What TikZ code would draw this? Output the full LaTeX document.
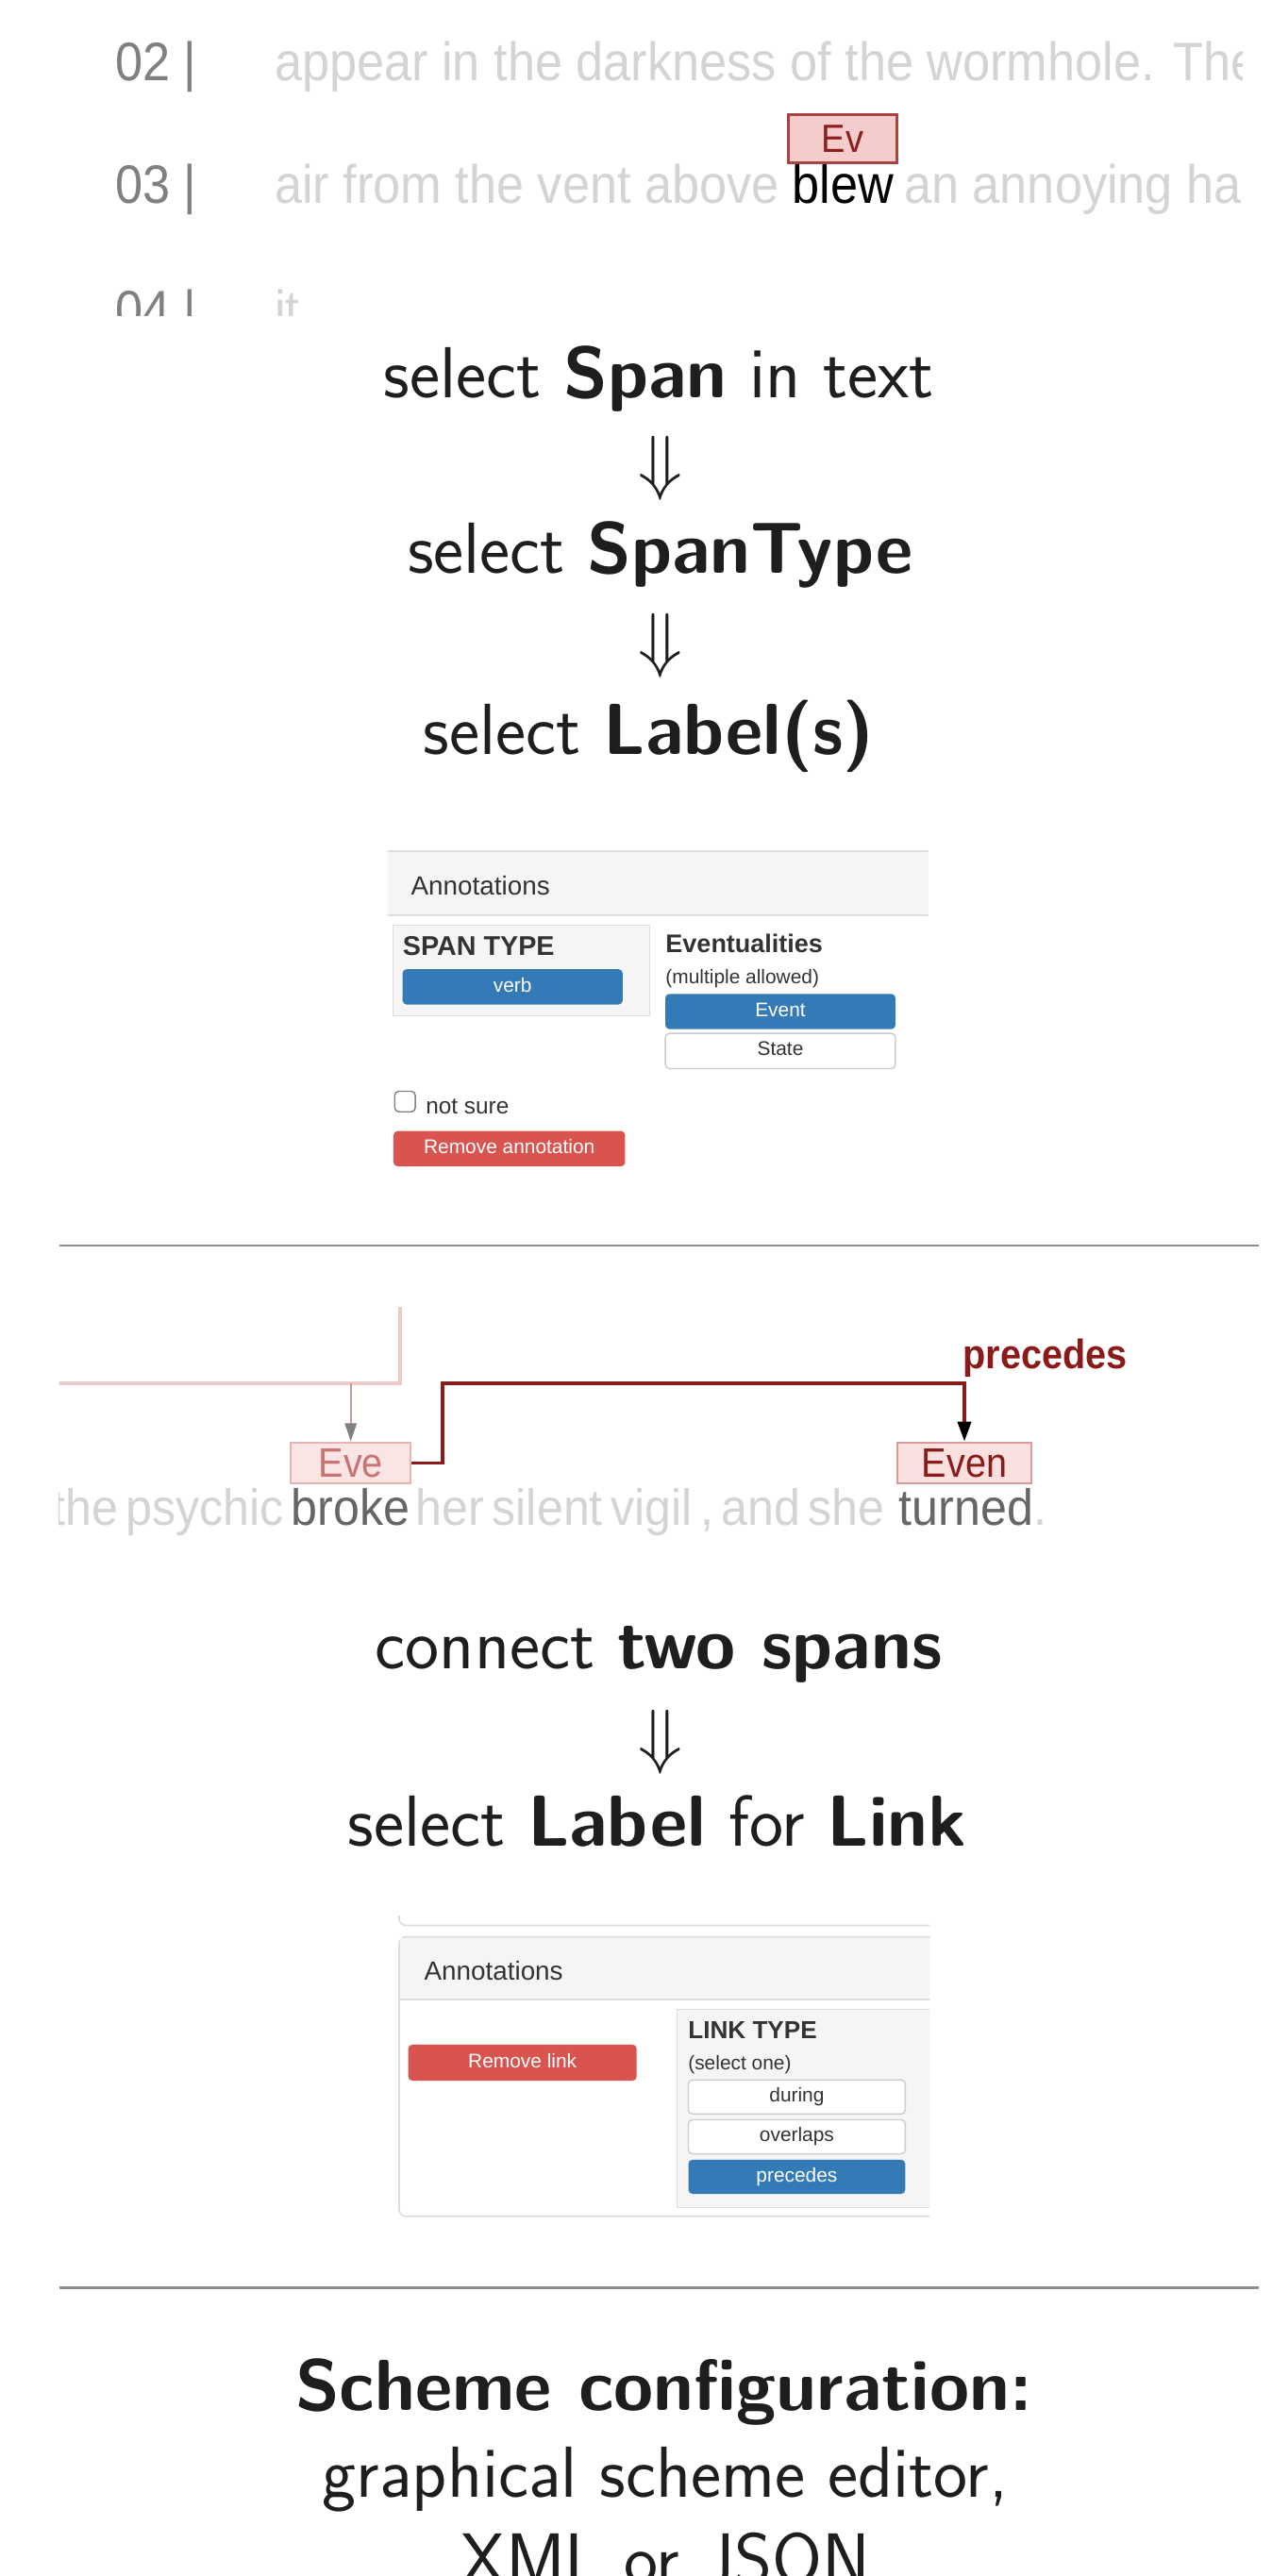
\RequirePackage{fix-cm}
\documentclass[tikz,border=0pt]{standalone}
\usepackage{fontspec}
\usepackage{tikz}
\usetikzlibrary{arrows.meta}

\newfontfamily\shotfont[FakeStretch=0.91]{Liberation Sans}
\newfontfamily\linefont[FakeStretch=0.93, WordSpace=0.6]{Liberation Sans}
\newfontfamily\uifont{Liberation Sans}

\definecolor{numgray}{HTML}{808080}
\definecolor{fadetext}{HTML}{D4D4D4}
\definecolor{wordgray}{HTML}{666666}
\definecolor{labelfill}{HTML}{F4CCCC}
\definecolor{labeldraw}{HTML}{A84444}
\definecolor{labeltext}{HTML}{8E1F1F}
\definecolor{fadefill}{HTML}{FBE4E4}
\definecolor{fadedraw}{HTML}{E6B4B4}
\definecolor{fadelabeltext}{HTML}{C77474}
\definecolor{evenfill}{HTML}{FBE0E0}
\definecolor{evendraw}{HTML}{D99A9A}
\definecolor{linkred}{HTML}{8B1A1A}
\definecolor{fadeline}{HTML}{EDCACA}
\definecolor{fadearrowline}{HTML}{CC9999}
\definecolor{panelgray}{HTML}{F5F5F5}
\definecolor{bordergray}{HTML}{DDDDDD}
\definecolor{btnborder}{HTML}{CCCCCC}
\definecolor{uidark}{HTML}{333333}
\definecolor{btnblue}{HTML}{337AB7}
\definecolor{btnred}{HTML}{D9534F}
\definecolor{rulegray}{HTML}{8C8C8C}
\definecolor{bigdark}{HTML}{1E1E1E}

\tikzset{
  bigtext/.style={font=\sffamily\fontsize{44}{52}\selectfont, text=bigdark, anchor=base, inner sep=0pt},
  shottext/.style={font=\shotfont\fontsize{33}{40}\selectfont, anchor=base west, inner sep=0pt},
  linetext/.style={font=\linefont\fontsize{31}{36}\selectfont, anchor=base west, inner sep=0pt},
  spanlabel/.style={draw=labeldraw, fill=labelfill, text=labeltext, line width=1.6pt, inner sep=0pt,
    font=\shotfont\fontsize{24}{28}\selectfont},
  fadelabel/.style={draw=fadedraw, fill=fadefill, text=fadelabeltext, line width=1.2pt, inner sep=0pt,
    font=\shotfont\fontsize{25}{28}\selectfont},
  evenlabel/.style={draw=evendraw, fill=evenfill, text=linkred, line width=1.2pt, inner sep=0pt,
    font=\shotfont\fontsize{25}{28}\selectfont},
  uitext/.style={font=\uifont\fontsize{16}{18}\selectfont, text=uidark, anchor=base west, inner sep=0pt},
  btn/.style={rounded corners=2.5pt, inner sep=0pt, text height=8.5pt, text depth=2.5pt,
    font=\uifont\fontsize{12}{14}\selectfont},
  bluebtn/.style={btn, fill=btnblue, text=white},
  redbtn/.style={btn, fill=btnred, text=white},
  whitebtn/.style={btn, fill=white, draw=btnborder, line width=0.8pt, text=uidark},
  linkline/.style={draw=linkred, line width=2.2pt, -{Triangle[length=12pt, width=8pt, color=black]}},
  fadearrow/.style={draw=fadearrowline, line width=1.3pt, -{Triangle[length=11pt, width=7pt, color=gray]}},
}

\begin{document}
\begin{tikzpicture}[x=1pt, y=-1pt]
\clip (0,0) rectangle (774,1568);
\fill[white] (0,0) rectangle (774,1568);

\begin{scope}
\clip (0,0) rectangle (756,192);
\node [shottext, text=numgray] (n02) at (70,49) {02 |};
\node [shottext, text=fadetext] (line02) at (167,49) {appear in the darkness of the wormhole. The};
\node [shottext, text=numgray] (n03) at (70,124) {03 |};
\node [shottext, text=fadetext] (line03a) at (167,124) {air from the vent above};
\node [shottext] (blew) at (482,124) {blew};
\node [shottext, text=fadetext] (line03b) at ([xshift=6pt]blew.base east) {an annoying hai};
\node [spanlabel, minimum width=66pt, minimum height=29pt] (ev) at (513,84.5) {Ev};
\node [shottext, text=numgray] (n04) at (70,200) {04 |};
\node [shottext, text=fadetext] (line04) at (167,200) {it};
\end{scope}

\node [bigtext] (step1) at (401,242) {select \textbf{Span} in text};
\node [bigtext] (arr1) at (402,296) {$\Downarrow$};
\node [bigtext] (step2) at (402,349) {select \textbf{SpanType}};
\node [bigtext] (arr2) at (402,404) {$\Downarrow$};
\node [bigtext] (step3) at (395,459) {select \textbf{Label(s)}};

\begin{scope}
\clip (230,510) rectangle (565,720);
\fill [panelgray] (236,518) rectangle (565,557);
\draw [bordergray, line width=1pt] (236,518) -- (565,518) (236,557) -- (565,557);
\node [uitext] (ann1) at (250,545) {Annotations};
\node [draw=bordergray, fill=panelgray, anchor=north west, minimum width=156pt, minimum height=55pt,
  inner sep=0pt] (spanbox) at (239,563) {};
\node [uitext, font=\uifont\bfseries\fontsize{16.5}{18}\selectfont] (spantype) at (245,581.7) {SPAN TYPE};
\node [bluebtn, minimum width=134pt, minimum height=21.5pt] (verb) at (312,600.7) {verb};
\node [uitext, font=\uifont\bfseries\fontsize{15.5}{18}\selectfont] (evtl) at (405,580) {Eventualities};
\node [uitext, font=\uifont\fontsize{12}{14}\selectfont] (multi) at (405,599) {(multiple allowed)};
\node [bluebtn, minimum width=140pt, minimum height=21.5pt] (event) at (475,615.7) {Event};
\node [whitebtn, minimum width=140pt, minimum height=21.5pt] (state) at (475,639.7) {State};
\node [draw=gray, rounded corners=2.5pt, minimum size=12.5pt, inner sep=0pt, line width=0.8pt] (chk) at (246.5,670.5) {};
\node [uitext, font=\uifont\fontsize{14}{16}\selectfont] (notsure) at (259,678) {not sure};
\node [redbtn, minimum width=141pt, minimum height=21.5pt] (rmann) at (310,699.2) {Remove annotation};
\end{scope}

\draw [rulegray, line width=1.3pt] (36,758) -- (766,758);

\begin{scope}
\clip (36,796) rectangle (720,945);
\coordinate (fadecorner) at (243.6,842);
\draw [fadeline, line width=2pt] (20,842) -- (fadecorner) -- (243.6,790);
\node [linetext, text=fadetext, anchor=base east] (pretext) at (173,928.5) {the psychic};
\node [linetext, text=wordgray] (broke) at (177,928.5) {broke};
\node [linetext, text=fadetext] (midtext) at (253,928.5) {her silent vigil , and she};
\node [linetext, text=wordgray] (turned) at (547,928.5) {turned};
\node [linetext, text=fadetext] (dot) at (turned.base east) {.};
\node [fadelabel, minimum width=73pt, minimum height=25pt] (eve) at (213.5,890.5) {Eve};
\node [evenlabel, minimum width=82pt, minimum height=25pt] (even) at (587,890.5) {Even};
\coordinate (bend) at (even.north |- fadecorner);
\draw [fadearrow] (eve.north |- fadecorner) -- (eve.north);
\draw [linkline] (eve.east) -- ++(19,0) |- (bend) -- (even.north);
\node [linetext, font=\shotfont\bfseries\fontsize{25}{30}\selectfont, text=linkred] (prec) at (586,833) {precedes};
\end{scope}

\node [bigtext] (step4) at (401,1016) {connect \textbf{two spans}};
\node [bigtext] (arr3) at (402,1071.5) {$\Downarrow$};
\node [bigtext] (step5) at (400,1124) {select \textbf{Label} for \textbf{Link}};

\begin{scope}
\clip (236,1166) rectangle (566,1356);
\draw [bordergray, line width=1pt, rounded corners=4pt] (243,1160) -- (243,1172) -- (600,1172);
\draw [bordergray, fill=white, line width=1pt, rounded corners=4pt] (243,1179) rectangle (600,1349);
\fill [panelgray] (243.5,1179.5) rectangle (600,1217);
\draw [bordergray, line width=1pt] (243,1217) -- (600,1217);
\node [uitext] (ann2) at (258,1205) {Annotations};
\node [redbtn, minimum width=139pt, minimum height=22pt] (rmlink) at (318,1255.5) {Remove link};
\node [draw=bordergray, fill=panelgray, anchor=north west, minimum width=160pt, minimum height=120.5pt,
  inner sep=0pt] (linkbox) at (411.8,1223) {};
\node [uitext, font=\uifont\bfseries\fontsize{15}{18}\selectfont] (linktype) at (418.7,1241) {LINK TYPE};
\node [uitext, font=\uifont\fontsize{12}{14}\selectfont] (selone) at (418.7,1260) {(select one)};
\node [whitebtn, minimum width=132pt, minimum height=20.8pt] (during) at (485,1276.4) {during};
\node [whitebtn, minimum width=132pt, minimum height=20.8pt] (overlaps) at (485,1300.7) {overlaps};
\node [bluebtn, minimum width=132pt, minimum height=20.8pt] (precbtn) at (485,1325) {precedes};
\end{scope}

\draw [rulegray, line width=1.2pt] (36,1392.5) -- (766,1392.5);

\node [bigtext] (cfg1) at (404,1467) {\textbf{Scheme configuration:}};
\node [bigtext] (cfg2) at (405,1520) {graphical scheme editor,};
\node [bigtext] (cfg3) at (405,1573) {XML or JSON};
\end{tikzpicture}
\end{document}
